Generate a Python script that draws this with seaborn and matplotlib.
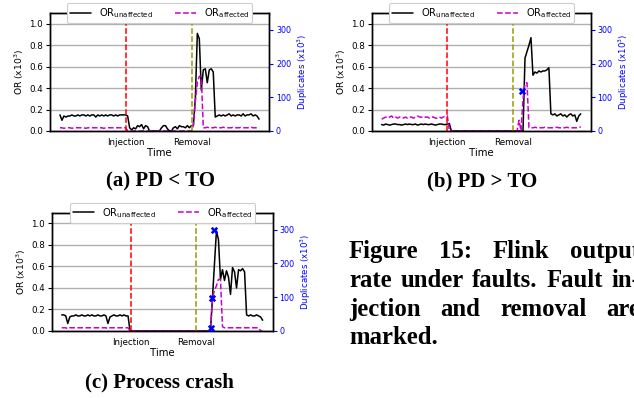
import matplotlib
matplotlib.use("Agg")
import matplotlib.pyplot as plt
import pandas as pd
import seaborn as sns

sns.set_style("white")
plt.rcParams['font.family'] = ['DejaVu Sans']
plt.rcParams['text.color'] = 'black'
plt.rcParams['axes.labelcolor'] = 'black'
plt.rcParams['xtick.color'] = 'black'
plt.rcParams['ytick.color'] = 'black'

time = list(range(101))

# (a) PD < TO
injection_a, removal_a = 33, 66.5
or_unaffected_a = [
    0.15, 0.10, 0.14, 0.13, 0.14, 0.14, 0.15, 0.14, 0.14, 0.15,
    0.14, 0.15, 0.15, 0.14, 0.15, 0.14, 0.15, 0.15, 0.13, 0.15,
    0.14, 0.15, 0.14, 0.15, 0.14, 0.15, 0.15, 0.14, 0.15, 0.14,
    0.15, 0.15, 0.15, 0.15, 0.14, 0.03, 0.01, 0.03, 0.02, 0.05,
    0.04, 0.06, 0.02, 0.05, 0.04, 0.00, 0.00, 0.00, 0.00, 0.00,
    0.00, 0.03, 0.05, 0.05, 0.02, 0.00, 0.00, 0.03, 0.04, 0.02,
    0.05, 0.04, 0.04, 0.03, 0.05, 0.03, 0.05, 0.05, 0.30, 0.91,
    0.86, 0.38, 0.57, 0.58, 0.45, 0.57, 0.58, 0.55, 0.13, 0.14,
    0.15, 0.14, 0.15, 0.14, 0.15, 0.16, 0.14, 0.15, 0.14, 0.15,
    0.15, 0.14, 0.16, 0.14, 0.15, 0.15, 0.16, 0.14, 0.15, 0.14, 0.11]
or_affected_a = [
    0.03, 0.03, 0.025, 0.03, 0.03, 0.03, 0.025, 0.03, 0.03, 0.03,
    0.03, 0.03, 0.03, 0.025, 0.03, 0.03, 0.03, 0.03, 0.03, 0.03,
    0.03, 0.03, 0.025, 0.03, 0.03, 0.03, 0.03, 0.03, 0.03, 0.03,
    0.03, 0.03, 0.03, 0.03, 0.00, 0.00, 0.00, 0.00, 0.00, 0.00,
    0.00, 0.00, 0.00, 0.00, 0.00, 0.00, 0.00, 0.00, 0.00, 0.00,
    0.00, 0.00, 0.00, 0.00, 0.00, 0.00, 0.00, 0.00, 0.00, 0.00,
    0.00, 0.00, 0.00, 0.00, 0.00, 0.00, 0.00, 0.05, 0.28, 0.45,
    0.51, 0.51, 0.03, 0.03, 0.035, 0.03, 0.03, 0.03, 0.035, 0.03,
    0.03, 0.03, 0.035, 0.03, 0.03, 0.03, 0.03, 0.035, 0.03, 0.03,
    0.03, 0.035, 0.03, 0.03, 0.03, 0.03, 0.035, 0.03, 0.03, 0.03, 0.02]
dup_time_a = []
duplicates_a = []

# (b) PD > TO
injection_b, removal_b = 33, 66
or_unaffected_b = [
    0.06, 0.055, 0.065, 0.06, 0.055, 0.06, 0.065, 0.065, 0.06, 0.06,
    0.055, 0.06, 0.065, 0.06, 0.065, 0.06, 0.06, 0.065, 0.055, 0.06,
    0.065, 0.06, 0.065, 0.06, 0.06, 0.065, 0.06, 0.055, 0.06, 0.065,
    0.065, 0.06, 0.06, 0.065, 0.07, 0.00, 0.00, 0.00, 0.00, 0.00,
    0.00, 0.00, 0.00, 0.00, 0.00, 0.00, 0.00, 0.00, 0.00, 0.00,
    0.00, 0.00, 0.00, 0.00, 0.00, 0.00, 0.00, 0.00, 0.00, 0.00,
    0.00, 0.00, 0.00, 0.00, 0.00, 0.00, 0.00, 0.00, 0.00, 0.00,
    0.00, 0.00, 0.68, 0.74, 0.80, 0.87, 0.52, 0.55, 0.54, 0.56,
    0.55, 0.56, 0.56, 0.57, 0.59, 0.16, 0.15, 0.16, 0.14, 0.15,
    0.16, 0.14, 0.15, 0.13, 0.15, 0.16, 0.14, 0.15, 0.09, 0.14, 0.16]
or_affected_b = [
    0.11, 0.12, 0.13, 0.12, 0.13, 0.14, 0.12, 0.13, 0.12, 0.13,
    0.13, 0.12, 0.13, 0.12, 0.13, 0.13, 0.12, 0.13, 0.14, 0.13,
    0.13, 0.12, 0.13, 0.13, 0.12, 0.13, 0.13, 0.12, 0.12, 0.13,
    0.12, 0.13, 0.14, 0.14, 0.00, 0.00, 0.00, 0.00, 0.00, 0.00,
    0.00, 0.00, 0.00, 0.00, 0.00, 0.00, 0.00, 0.00, 0.00, 0.00,
    0.00, 0.00, 0.00, 0.00, 0.00, 0.00, 0.00, 0.00, 0.00, 0.00,
    0.00, 0.00, 0.00, 0.00, 0.00, 0.00, 0.00, 0.00, 0.00, 0.10,
    0.00, 0.30, 0.44, 0.45, 0.03, 0.03, 0.03, 0.035, 0.03, 0.03,
    0.03, 0.03, 0.035, 0.03, 0.03, 0.03, 0.03, 0.03, 0.035, 0.03,
    0.03, 0.03, 0.03, 0.035, 0.03, 0.03, 0.03, 0.03, 0.03, 0.03, 0.04]
dup_time_b = [70.5]
duplicates_b = [120]

# (c) Process crash
injection_c, removal_c = 34.5, 67
or_unaffected_c = [
    0.15, 0.15, 0.14, 0.07, 0.13, 0.14, 0.14, 0.15, 0.14, 0.14,
    0.15, 0.14, 0.14, 0.15, 0.14, 0.15, 0.14, 0.14, 0.15, 0.14,
    0.14, 0.15, 0.14, 0.07, 0.13, 0.14, 0.15, 0.14, 0.14, 0.15,
    0.14, 0.15, 0.14, 0.14, 0.00, 0.00, 0.00, 0.00, 0.00, 0.00,
    0.00, 0.00, 0.00, 0.00, 0.00, 0.00, 0.00, 0.00, 0.00, 0.00,
    0.00, 0.00, 0.00, 0.00, 0.00, 0.00, 0.00, 0.00, 0.00, 0.00,
    0.00, 0.00, 0.00, 0.00, 0.00, 0.00, 0.00, 0.00, 0.00, 0.00,
    0.00, 0.00, 0.00, 0.00, 0.00, 0.30, 0.62, 0.93, 0.85, 0.48,
    0.57, 0.47, 0.56, 0.50, 0.34, 0.59, 0.55, 0.40, 0.57, 0.56,
    0.58, 0.55, 0.15, 0.14, 0.15, 0.14, 0.14, 0.15, 0.14, 0.13, 0.10]
or_affected_c = [
    0.03, 0.03, 0.03, 0.02, 0.03, 0.03, 0.03, 0.03, 0.03, 0.03,
    0.03, 0.03, 0.03, 0.03, 0.03, 0.03, 0.03, 0.03, 0.03, 0.03,
    0.03, 0.03, 0.03, 0.02, 0.03, 0.03, 0.03, 0.03, 0.03, 0.03,
    0.03, 0.03, 0.03, 0.03, 0.00, 0.00, 0.00, 0.00, 0.00, 0.00,
    0.00, 0.00, 0.00, 0.00, 0.00, 0.00, 0.00, 0.00, 0.00, 0.00,
    0.00, 0.00, 0.00, 0.00, 0.00, 0.00, 0.00, 0.00, 0.00, 0.00,
    0.00, 0.00, 0.00, 0.00, 0.00, 0.00, 0.00, 0.00, 0.00, 0.00,
    0.00, 0.00, 0.00, 0.00, 0.00, 0.30, 0.38, 0.42, 0.48, 0.48,
    0.04, 0.03, 0.03, 0.03, 0.03, 0.03, 0.03, 0.03, 0.03, 0.03,
    0.03, 0.03, 0.03, 0.03, 0.03, 0.03, 0.03, 0.03, 0.03, 0.00, 0.00]
dup_time_c = [74.5, 75.0, 75.7]
duplicates_c = [8, 98, 300]

event_labels = ["Injection", "Removal"]
subcaptions = ["(a) PD < TO", "(b) PD > TO", "(c) Process crash"]
caption_lines = [
    ["Figure", "15:", "Flink", "output"],
    ["rate", "under", "faults.", "Fault", "in-"],
    ["jection", "and", "removal", "are"],
    ["marked."],
]

W, H = 634, 398
fig = plt.figure(figsize=(W / 100, H / 100), dpi=100)


def px_axes(left, top, right, bottom):
    return fig.add_axes([left / W, 1 - bottom / H, (right - left) / W, (bottom - top) / H])


def panel(ax, unaff, aff, inj, rem, dup_t, dup_v):
    df = pd.DataFrame({"t": time, "unaff": unaff, "aff": aff})
    ax.yaxis.grid(True, color="#b0b0b0", lw=1.0)
    ax.set_axisbelow(True)
    sns.lineplot(data=df, x="t", y="unaff", ax=ax, color="black", lw=1.1,
                 label="OR$_{\\mathrm{unaffected}}$", legend=False)
    sns.lineplot(data=df, x="t", y="aff", ax=ax, color="#cc00cc", lw=1.1,
                 linestyle="--", label="OR$_{\\mathrm{affected}}$", legend=False)
    ax.vlines([inj], 0, 1.0, colors="red", linestyles="--", lw=1.1)
    ax.vlines([rem], 0, 1.0, colors="#9a9a00", linestyles="--", lw=1.1)
    ax.set_ylim(0, 1.1)
    ax.set_yticks([0.0, 0.2, 0.4, 0.6, 0.8, 1.0])
    ax.set_xticks([inj, rem])
    ax.set_xticklabels(event_labels)
    ax.tick_params(axis="both", labelsize=6.3, length=3, width=0.8, pad=2)
    ax.set_xlabel("Time", fontsize=7.3, labelpad=1)
    ax.set_ylabel("OR (x10$^3$)", fontsize=6.6, labelpad=2)
    for s in ax.spines.values():
        s.set_color("black")
        s.set_linewidth(1.0)

    ax2 = ax.twinx()
    if dup_t:
        sns.scatterplot(x=dup_t, y=dup_v, ax=ax2, color="blue", marker="X",
                        s=28, linewidth=0, zorder=5)
    ax2.set_ylim(0, 350)
    ax2.set_yticks([0, 100, 200, 300])
    ax2.tick_params(axis="y", colors="blue", labelsize=5.8, length=3, width=0.8, pad=2)
    ax2.set_ylabel("Duplicates (x10$^3$)", color="blue", fontsize=6.2, labelpad=3)
    for s in ax2.spines.values():
        s.set_color("black")
        s.set_linewidth(1.0)
    h, l = ax.get_legend_handles_labels()
    leg = ax2.legend(h, l, loc="center", bbox_to_anchor=(0.5, 1.0), ncol=2,
                     fontsize=7.2, handlelength=2.1, columnspacing=2.2,
                     borderpad=0.3, handletextpad=0.8, framealpha=1.0)
    leg.get_frame().set_edgecolor("#cccccc")
    leg.get_frame().set_linewidth(0.8)
    return ax2


ax_a = px_axes(50, 13, 269, 131)
panel(ax_a, or_unaffected_a, or_affected_a, injection_a, removal_a, dup_time_a, duplicates_a)
ax_b = px_axes(371.7, 13, 590.7, 131)
panel(ax_b, or_unaffected_b, or_affected_b, injection_b, removal_b, dup_time_b, duplicates_b)
ax_c = px_axes(51.7, 212.7, 272.7, 331)
panel(ax_c, or_unaffected_c, or_affected_c, injection_c, removal_c, dup_time_c, duplicates_c)

serif = dict(family="Liberation Serif", weight="bold", color="black")
fig.text(160 / W, 1 - 181 / H, subcaptions[0], ha="center", va="center", fontsize=15, **serif)
fig.text(482 / W, 1 - 181 / H, subcaptions[1], ha="center", va="center", fontsize=15, **serif)
fig.text(159 / W, 1 - 382 / H, subcaptions[2], ha="center", va="center", fontsize=15, **serif)

# justified caption block (right edge runs past the canvas)
cap_size = 17.8
left_px, right_px = 349, 640
baselines = [258, 287, 316, 344.5]
fig.canvas.draw()
renderer = fig.canvas.get_renderer()


def word_width(w):
    t = fig.text(0, 0, w, fontsize=cap_size, **serif)
    bb = t.get_window_extent(renderer)
    t.remove()
    return bb.width


space_w = word_width("a b") - word_width("ab")

for i, words in enumerate(caption_lines):
    widths = [word_width(w) for w in words]
    if i == len(caption_lines) - 1 or len(words) == 1:
        gap = space_w
    else:
        gap = (right_px - left_px - sum(widths)) / (len(words) - 1)
    x = left_px
    for w, wd in zip(words, widths):
        fig.text(x / W, 1 - baselines[i] / H, w, ha="left", va="baseline",
                 fontsize=cap_size, **serif)
        x += wd + gap

fig.savefig("out.png", dpi=100)
